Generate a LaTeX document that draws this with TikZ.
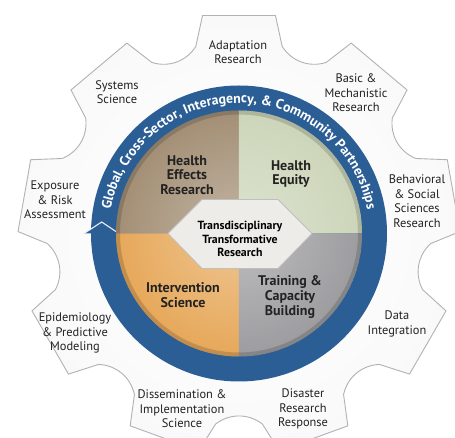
\documentclass[tikz,border=0pt]{standalone}
\usepackage{fontspec}
\setmainfont{PT Sans}
\usetikzlibrary{decorations.text,fadings}
\definecolor{ringblue}{HTML}{2B5E95}
\definecolor{qbrown}{HTML}{927A5B}
\definecolor{qgreen}{HTML}{C3CEAC}
\definecolor{qorange}{HTML}{E2983B}
\definecolor{qgray}{HTML}{8A8A8E}
\definecolor{labeltext}{HTML}{222222}
\definecolor{hexfill}{HTML}{EEECE8}
\pgfdeclareradialshading{gearshade}{\pgfpoint{0bp}{0bp}}{color(0bp)=(white); color(33bp)=(white!97!black); color(42bp)=(white!89!black); color(50bp)=(white!78!black); color(80bp)=(white!78!black)}
\tikzfading[name=glowfade, inner color=transparent!55, outer color=transparent!100]
\begin{document}
\begin{tikzpicture}[x=1pt,y=1pt,
  gearlbl/.style={align=center, inner sep=0pt, text=labeltext, font=\fontsize{12.4}{14.5}\selectfont},
  quadlbl/.style={align=center, inner sep=0pt, text=labeltext, font=\bfseries\fontsize{14}{14.6}\selectfont},
  centerlbl/.style={align=center, inner sep=0pt, text=black, font=\bfseries\fontsize{11.8}{13.3}\selectfont}]
\useasboundingbox[fill=white] (-239,-204.5) rectangle (216,233.5);
% gear
\begin{scope}
\clip (-239,-204.5) rectangle (216,233.5);
\shadedraw[shading=gearshade, draw=gray!60, line width=0.9pt] (80.5:221)
  \foreach \a in {90,130,...,410} { -- (\a+9.5:221) -- (\a+13:192) .. controls (\a+17:180) and (\a+23:180) .. (\a+27:192) -- (\a+30.5:221) } -- cycle;
\end{scope}
% blue ring
\fill[ringblue] (0,0) circle (148);
% arrow head
\filldraw[fill=ringblue, draw=white!90!ringblue, line width=1.1pt, line join=miter] (-155,0) -- (-137.3,11.5) -- (-120,0);
% quadrants
\fill[qbrown] (0,0) -- (90:123) arc[start angle=90, end angle=180, radius=123] -- cycle;
\fill[qgreen] (0,0) -- (0:123) arc[start angle=0, end angle=90, radius=123] -- cycle;
\fill[qorange] (0,0) -- (180:123) arc[start angle=180, end angle=270, radius=123] -- cycle;
\fill[qgray] (0,0) -- (270:123) arc[start angle=270, end angle=360, radius=123] -- cycle;
\begin{scope}
\clip (0,0) circle (123);
\fill[white, path fading=glowfade] (0,0) circle (190);
\draw[black, opacity=0.15, line width=4pt] (0,0) circle (121);
\end{scope}
% ring text
\path[decorate, decoration={text along path, text align=center,
  text={|\bfseries\fontsize{13.8}{14}\selectfont\color{white}|Global, Cross-Sector, Interagency, {\&} Community Partnerships}}]
  (178:130.5) arc[start angle=178, end angle=2, radius=130.5];
% center hexagon
\filldraw[fill=hexfill, draw=gray!50, line width=0.8pt] (-71,0) -- (-37,34) -- (39,34) -- (73,0) -- (39,-35) -- (-37,-35) -- cycle;
% labels
\node[gearlbl] (adapt) at (-1,181.5) {Adaptation\\Research};
\node[gearlbl] (basic) at (117,140.5) {Basic \&\\Mechanistic\\Research};
\node[gearlbl] (systems) at (-122,141.5) {Systems\\Science};
\node[gearlbl] (exposure) at (-184,33.5) {Exposure\\\& Risk\\Assessment};
\node[gearlbl] (behav) at (178,32.5) {Behavioral\\\& Social\\Sciences\\Research};
\node[gearlbl] (data) at (158,-90.5) {Data\\Integration};
\node[gearlbl] (epi) at (-164,-99.5) {Epidemiology\\\& Predictive\\Modeling};
\node[gearlbl] (dissem) at (-57,-175.5) {Dissemination \&\\Implementation\\Science};
\node[gearlbl] (disaster) at (64,-175.5) {Disaster\\Research\\Response};
\node[quadlbl] (her) at (-52,58.5) {Health\\Effects\\Research};
\node[quadlbl] (equity) at (52,59.5) {Health\\Equity};
\node[quadlbl] (interv) at (-56,-61.5) {Intervention\\Science};
\node[quadlbl] (training) at (51,-63.5) {Training \&\\Capacity\\Building};
\node[centerlbl] (tdr) at (1,-5.5) {Transdisciplinary\\Transformative\\Research};
\end{tikzpicture}
\end{document}
